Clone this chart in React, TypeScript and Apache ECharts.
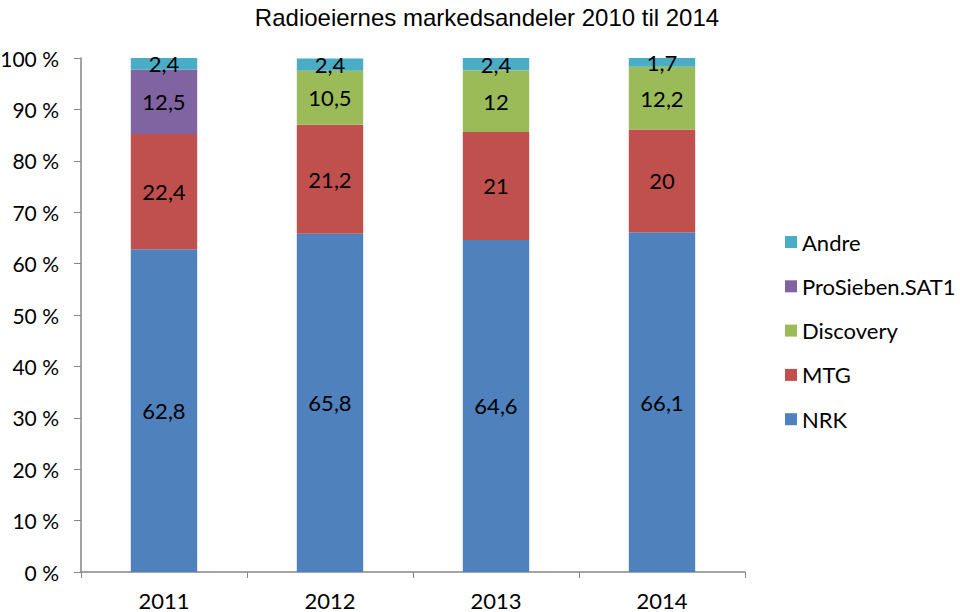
import React, { useEffect, useRef } from "react";
import * as echarts from "echarts";

const categories = ["2011", "2012", "2013", "2014"];
const nrk = [62.8, 65.8, 64.6, 66.1];
const mtg = [22.4, 21.2, 21, 20];
const discovery = [null, 10.5, 12, 12.2];
const prosieben = [12.5, null, null, null];
const andre = [2.4, 2.4, 2.4, 1.7];
const yTicks = [0, 10, 20, 30, 40, 50, 60, 70, 80, 90, 100];

const FONT = "Lato, 'Open Sans', sans-serif";

export default function App() {
  const ref = useRef<HTMLDivElement>(null);
  useEffect(() => {
    if (!ref.current) return;
    const chart = echarts.init(ref.current, null, { renderer: "svg" });
    const label = {
      show: true,
      position: "inside",
      color: "#000",
      fontSize: 22,
      fontFamily: FONT,
      formatter: (p: any) => String(p.value).replace(".", ","),
    };
    const mk = (name: string, data: any[], color: string) => ({
      name,
      type: "bar",
      stack: "total",
      data,
      barWidth: "40%",
      itemStyle: { color },
      label,
    });
    chart.setOption({
      animation: false,
      title: {
        text: "Radioeiernes markedsandeler 2010 til 2014",
        left: 482,
        textAlign: "center",
        top: 0,
        textStyle: {
          fontFamily: "'Liberation Sans', Arial, sans-serif",
          fontWeight: "normal",
          fontSize: 24,
          color: "#000",
        },
      },
      grid: { left: 81, right: 215, top: 58, bottom: 40, containLabel: false, outerBoundsMode: "none" },
      legend: {
        orient: "vertical",
        left: 780,
        top: 226,
        itemWidth: 12,
        itemHeight: 12,
        itemGap: 22.3,
        icon: "rect",
        data: ["Andre", "ProSieben.SAT1", "Discovery", "MTG", "NRK"],
        textStyle: { fontFamily: FONT, fontSize: 22, color: "#000", lineHeight: 22 },
      },
      xAxis: {
        type: "category",
        data: categories,
        axisLine: { lineStyle: { color: "#868686", width: 1.5 } },
        axisTick: { show: true, length: 6, lineStyle: { color: "#868686" } },
        axisLabel: { fontFamily: FONT, fontSize: 22, color: "#000", margin: 17 },
      },
      yAxis: {
        type: "value",
        min: 0,
        max: 100,
        interval: 10,
        splitLine: { show: false },
        axisLine: { show: true, lineStyle: { color: "#868686", width: 1.5 } },
        axisTick: { show: true, length: 7, lineStyle: { color: "#868686" } },
        axisLabel: {
          fontFamily: FONT,
          fontSize: 21,
          color: "#000",
          margin: 22,
          formatter: (v: number) => (yTicks.includes(v) ? `${v} %` : ""),
        },
      },
      series: [
        mk("NRK", nrk, "#4F81BD"),
        mk("MTG", mtg, "#C0504D"),
        mk("Discovery", discovery, "#9BBB59"),
        mk("ProSieben.SAT1", prosieben, "#8064A2"),
        mk("Andre", andre, "#4BACC6"),
      ],
    });
    return () => chart.dispose();
  }, []);
  return <div ref={ref} style={{ width: 960, height: 612, position: "absolute", left: 0, top: 0, background: "#fff" }} />;
}
